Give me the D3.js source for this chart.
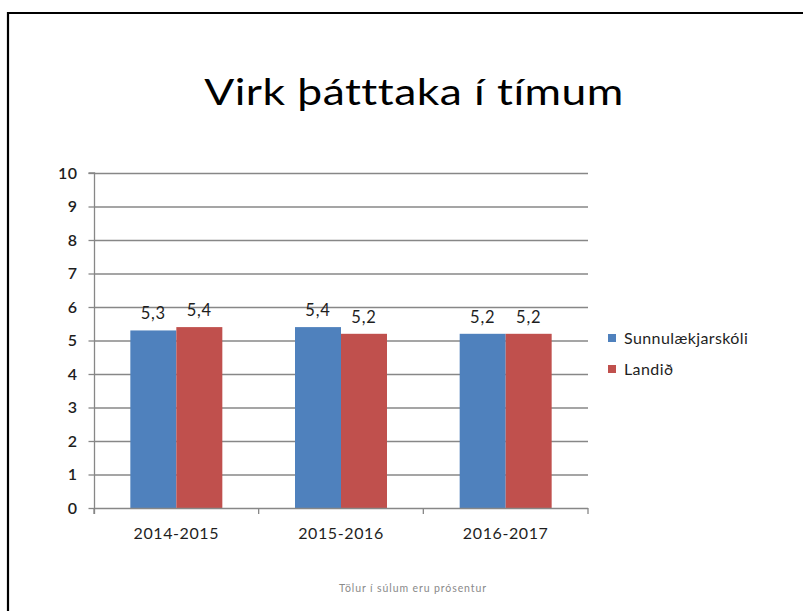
<!DOCTYPE html>
<html>
<head>
<meta charset="utf-8">
<script src="https://cdn.jsdelivr.net/npm/d3@7"></script>
<style>
  html, body { margin: 0; padding: 0; background: #fff; }
  svg { display: block; }
</style>
</head>
<body>
<svg id="chart" width="803" height="611"></svg>
<script>
// Chart data
const categories = ["2014-2015", "2015-2016", "2016-2017"];
const seriesNames = ["Sunnulækjarskóli", "Landið"];
const sunnulaekjarskoli = [5.3, 5.4, 5.2];
const landid = [5.4, 5.2, 5.2];
const yTicks = [0, 1, 2, 3, 4, 5, 6, 7, 8, 9, 10];
const colors = ["#4F81BD", "#C0504D"];
const titleText = "Virk þátttaka í tímum";
const footnote = "Tölur í súlum eru prósentur";

const series = [sunnulaekjarskoli, landid];
const svg = d3.select("#chart");
const font = "Lato, 'Open Sans', sans-serif";
const textColor = "#1e1e1e";
const axisColor = "#878787";

// Outer frame
svg.append("path")
  .attr("d", "M8,611 L8,13 L803,13")
  .attr("fill", "none").attr("stroke", "#000").attr("stroke-width", 2.2);

// Title, widened horizontally
svg.append("text")
  .attr("transform", "translate(414,105) scale(1.2,1)")
  .attr("text-anchor", "middle")
  .attr("font-family", font).attr("font-size", 37)
  .attr("letter-spacing", 0.4)
  .attr("fill", "#000")
  .text(titleText);

const plot = { left: 94, right: 588, top: 173, bottom: 508 };

const x = d3.scaleBand().domain(categories).range([plot.left, plot.right]).paddingInner(0).paddingOuter(0);
const y = d3.scaleLinear().domain([0, 10]).range([plot.bottom, plot.top]);
const xs = d3.scaleBand().domain(seriesNames).range([0, x.bandwidth()]).paddingInner(0).paddingOuter(0.79);

// Horizontal gridlines
svg.append("g").selectAll("line").data(yTicks.filter(d => d > 0)).join("line")
  .attr("x1", plot.left).attr("x2", plot.right)
  .attr("y1", d => y(d) + 0.5).attr("y2", d => y(d) + 0.5)
  .attr("stroke", axisColor).attr("stroke-width", 1.3);

// Y axis
const yAxis = svg.append("g")
  .attr("transform", `translate(${plot.left + 0.5},0)`)
  .call(d3.axisLeft(y).tickValues(yTicks).tickSize(6).tickPadding(11).tickFormat(d3.format("d")));
yAxis.select(".domain").attr("stroke", axisColor).attr("stroke-width", 1.3).attr("d", `M-6,${plot.top}H0V${plot.bottom + 6}`);
yAxis.selectAll(".tick line").attr("stroke", axisColor).attr("stroke-width", 1.3);
yAxis.selectAll(".tick text")
  .attr("font-family", font).attr("font-size", 16).attr("font-weight", 600)
  .attr("letter-spacing", 0.5)
  .attr("fill", textColor);

// Bars
const groups = svg.append("g").selectAll("g").data(categories).join("g")
  .attr("transform", d => `translate(${x(d)},0)`);
const cells = (c, i) => seriesNames.map((s, j) => ({ s, j, v: series[j][i] }));
groups.selectAll("rect")
  .data(cells)
  .join("rect")
  .attr("x", d => xs(d.s))
  .attr("width", xs.bandwidth())
  .attr("y", d => y(d.v))
  .attr("height", d => y(0) - y(d.v))
  .attr("fill", d => colors[d.j]);

// Value labels
const fmt = v => d3.format(".1f")(v).replace(".", ",");
groups.selectAll("text.val")
  .data(cells)
  .join("text")
  .attr("class", "val")
  .attr("x", d => xs(d.s) + xs.bandwidth() / 2)
  .attr("y", d => y(d.v) - 11)
  .attr("text-anchor", "middle")
  .attr("font-family", font).attr("font-size", 16.5)
  .attr("letter-spacing", 0.8)
  .attr("fill", textColor)
  .text(d => fmt(d.v));

// X axis
const xAxis = svg.append("g")
  .attr("transform", `translate(0,${plot.bottom + 0.5})`)
  .call(d3.axisBottom(x).tickSize(0).tickPadding(19));
xAxis.select(".domain").attr("stroke", axisColor).attr("stroke-width", 1.3)
  .attr("d", `M${plot.left},0H${plot.right}`);
xAxis.selectAll(".tick text")
  .attr("font-family", font).attr("font-size", 16)
  .attr("letter-spacing", 0.6)
  .attr("fill", textColor);
// Category separators
svg.append("g").selectAll("line")
  .data(categories.map(c => x(c)).concat([plot.right]))
  .join("line")
  .attr("x1", d => d).attr("x2", d => d)
  .attr("y1", plot.bottom).attr("y2", plot.bottom + 6)
  .attr("stroke", axisColor).attr("stroke-width", 1.3);

// Legend
const legend = svg.append("g").attr("transform", "translate(608,0)");
seriesNames.forEach((name, i) => {
  const cy = 338 + i * 31;
  legend.append("rect").attr("x", 0).attr("y", cy - 4).attr("width", 8).attr("height", 8).attr("fill", colors[i]);
  legend.append("text").attr("x", 16).attr("y", cy + 5.5)
    .attr("font-family", font).attr("font-size", 16)
    .attr("letter-spacing", 0.4)
    .attr("fill", textColor)
    .text(name);
});

// Footnote
svg.append("text")
  .attr("x", 413).attr("y", 592)
  .attr("text-anchor", "middle")
  .attr("font-family", font).attr("font-size", 10.5)
  .attr("letter-spacing", 0.9)
  .attr("fill", "#8a8a8a")
  .text(footnote);
</script>
</body>
</html>
